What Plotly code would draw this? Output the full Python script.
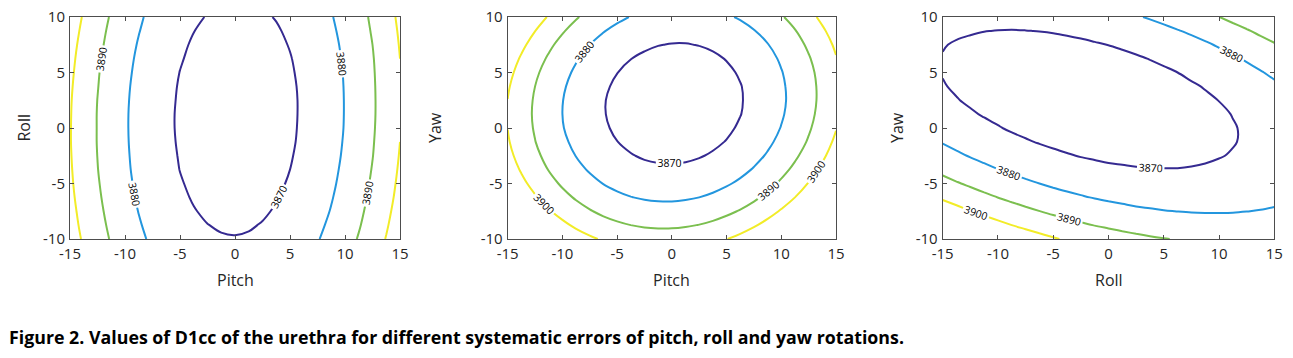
import plotly.graph_objects as go

# ---------------- data ----------------
# grid of rotation errors (degrees)
grid_x = [-15, -13.75, -12.5, -11.25, -10, -8.75, -7.5, -6.25, -5, -3.75, -2.5, -1.25, 0,
          1.25, 2.5, 3.75, 5, 6.25, 7.5, 8.75, 10, 11.25, 12.5, 13.75, 15]
grid_y = [-10, -8.75, -7.5, -6.25, -5, -3.75, -2.5, -1.25, 0, 1.25, 2.5, 3.75, 5, 6.25, 7.5, 8.75, 10]
levels = [3870, 3880, 3890, 3900]
x_ticks = [-15, -10, -5, 0, 5, 10, 15]
x_tick_text = ["-15", "-10", "-5", "0", "5", "10", "15"]
y_ticks = [-10, -5, 0, 5, 10]
y_tick_text = ["-10", "-5", "0", "5", "10"]

# D1cc values, stored as tenths above this base (rows = grid_y, cols = grid_x)
d1cc_base = 3860

# Pitch (x) vs Roll (y)
d1cc_pitch_roll = [
    [444, 389, 339, 293, 253, 217, 186, 160, 139, 123, 112, 105, 103, 106, 114, 127, 145, 167, 195, 227, 264, 306, 352, 404, 460],
    [434, 379, 329, 283, 243, 207, 176, 150, 129, 112, 101, 94, 92, 95, 103, 116, 133, 156, 183, 215, 252, 293, 340, 391, 448],
    [426, 371, 320, 275, 234, 198, 167, 141, 119, 103, 91, 84, 82, 85, 93, 105, 123, 145, 172, 204, 241, 282, 329, 380, 436],
    [419, 363, 313, 267, 226, 190, 159, 133, 111, 95, 83, 76, 74, 77, 84, 97, 114, 136, 163, 195, 231, 273, 319, 370, 426],
    [413, 358, 307, 261, 220, 184, 153, 126, 105, 88, 76, 69, 67, 69, 77, 89, 106, 128, 155, 187, 223, 265, 311, 362, 418],
    [409, 353, 302, 256, 215, 179, 148, 121, 99, 83, 71, 63, 61, 63, 71, 83, 100, 122, 149, 180, 217, 258, 304, 355, 411],
    [406, 350, 299, 253, 212, 176, 144, 117, 96, 78, 66, 59, 56, 59, 66, 78, 95, 117, 143, 175, 211, 252, 298, 349, 405],
    [404, 348, 297, 251, 210, 173, 142, 115, 93, 76, 63, 56, 53, 56, 63, 75, 91, 113, 140, 171, 207, 248, 294, 345, 400],
    [404, 348, 297, 250, 209, 172, 140, 114, 91, 74, 62, 54, 52, 54, 61, 72, 89, 111, 137, 168, 204, 245, 291, 341, 397],
    [405, 349, 297, 251, 209, 173, 141, 114, 91, 74, 62, 54, 51, 53, 60, 72, 88, 110, 136, 167, 203, 243, 289, 340, 395],
    [407, 351, 299, 253, 211, 174, 142, 115, 93, 75, 63, 55, 53, 54, 61, 72, 88, 110, 136, 167, 203, 243, 289, 339, 394],
    [411, 354, 303, 256, 214, 177, 145, 118, 95, 78, 65, 57, 54, 56, 62, 74, 90, 111, 137, 168, 204, 244, 290, 340, 395],
    [416, 359, 307, 260, 218, 182, 149, 122, 99, 82, 69, 61, 58, 59, 66, 77, 93, 114, 140, 171, 206, 247, 292, 342, 397],
    [422, 365, 313, 267, 224, 187, 155, 127, 105, 87, 74, 66, 63, 64, 70, 81, 97, 118, 144, 175, 210, 250, 295, 346, 400],
    [429, 373, 321, 274, 232, 194, 162, 134, 111, 93, 80, 72, 68, 70, 76, 87, 103, 124, 150, 180, 215, 255, 300, 350, 405],
    [438, 382, 330, 282, 240, 203, 170, 142, 119, 101, 88, 80, 76, 77, 83, 94, 110, 131, 156, 187, 222, 262, 307, 356, 411],
    [449, 392, 340, 292, 250, 212, 179, 152, 129, 110, 97, 88, 85, 86, 92, 103, 118, 139, 164, 195, 230, 270, 314, 364, 418],
]

# Pitch (x) vs Yaw (y)
d1cc_pitch_yaw = [
    [656, 603, 556, 513, 475, 442, 414, 390, 372, 358, 349, 345, 346, 352, 363, 378, 398, 423, 453, 488, 528, 572, 621, 675, 734],
    [601, 548, 500, 457, 419, 385, 356, 333, 314, 300, 290, 286, 286, 292, 302, 317, 337, 361, 391, 425, 464, 508, 557, 611, 670],
    [553, 499, 451, 407, 369, 335, 306, 281, 262, 248, 238, 233, 233, 238, 248, 262, 282, 306, 335, 369, 408, 451, 500, 553, 611],
    [511, 457, 408, 364, 325, 291, 261, 237, 217, 202, 192, 187, 186, 191, 200, 214, 233, 257, 285, 319, 357, 400, 448, 501, 559],
    [475, 421, 372, 328, 288, 253, 223, 198, 178, 163, 152, 146, 146, 150, 159, 172, 191, 214, 242, 275, 313, 356, 404, 456, 513],
    [446, 392, 342, 297, 257, 222, 192, 166, 146, 130, 119, 113, 112, 115, 124, 137, 155, 178, 206, 238, 276, 318, 366, 418, 474],
    [424, 369, 319, 274, 233, 198, 167, 141, 120, 104, 92, 86, 84, 87, 95, 108, 126, 148, 176, 208, 245, 287, 334, 385, 442],
    [408, 353, 302, 256, 216, 180, 148, 122, 101, 84, 72, 65, 63, 66, 73, 86, 103, 125, 152, 184, 221, 262, 308, 360, 416],
    [399, 343, 292, 246, 204, 168, 136, 110, 88, 71, 58, 51, 49, 51, 58, 70, 87, 109, 135, 166, 203, 244, 290, 340, 396],
    [396, 339, 288, 241, 200, 163, 131, 104, 81, 64, 51, 43, 40, 42, 49, 61, 77, 98, 124, 155, 191, 232, 277, 328, 383],
    [399, 342, 291, 244, 202, 164, 132, 104, 81, 64, 50, 42, 39, 40, 47, 58, 74, 95, 120, 151, 186, 226, 272, 321, 376],
    [409, 352, 300, 252, 210, 172, 139, 111, 88, 70, 56, 48, 44, 45, 51, 61, 77, 97, 123, 153, 188, 228, 272, 322, 376],
    [425, 368, 315, 267, 225, 186, 153, 125, 101, 82, 68, 59, 55, 56, 61, 71, 87, 107, 131, 161, 196, 235, 279, 328, 382],
    [448, 390, 337, 289, 246, 207, 174, 145, 121, 101, 87, 78, 73, 73, 78, 88, 103, 122, 147, 176, 210, 249, 293, 341, 395],
    [478, 419, 366, 317, 273, 234, 200, 171, 147, 127, 112, 102, 97, 97, 102, 111, 125, 144, 168, 197, 231, 270, 313, 361, 414],
    [514, 455, 401, 352, 308, 268, 234, 204, 179, 159, 144, 133, 128, 127, 131, 141, 154, 173, 197, 225, 258, 296, 339, 387, 440],
    [556, 497, 442, 393, 348, 308, 273, 243, 218, 197, 182, 171, 165, 164, 168, 176, 190, 208, 231, 259, 292, 330, 372, 420, 472],
]

# Roll (x) vs Yaw (y)
d1cc_roll_yaw = [
    [600, 571, 544, 518, 493, 470, 448, 427, 408, 390, 374, 359, 345, 332, 321, 311, 303, 296, 290, 286, 283, 281, 281, 282, 284],
    [523, 496, 470, 445, 422, 400, 380, 361, 343, 327, 312, 298, 286, 275, 265, 257, 250, 244, 240, 237, 236, 235, 237, 239, 243],
    [452, 427, 402, 379, 358, 337, 318, 301, 284, 270, 256, 244, 233, 224, 215, 209, 203, 199, 196, 195, 195, 196, 199, 203, 209],
    [388, 364, 341, 319, 299, 280, 263, 247, 232, 219, 207, 196, 187, 179, 172, 167, 163, 160, 159, 159, 161, 164, 168, 173, 180],
    [330, 307, 286, 266, 247, 230, 214, 200, 186, 174, 164, 155, 147, 140, 135, 132, 129, 128, 128, 130, 133, 137, 143, 150, 159],
    [278, 257, 237, 219, 202, 186, 172, 159, 147, 136, 127, 120, 113, 109, 105, 103, 102, 102, 104, 107, 112, 118, 125, 133, 143],
    [233, 214, 195, 178, 163, 148, 136, 124, 114, 105, 97, 91, 86, 83, 81, 80, 81, 83, 86, 91, 97, 104, 113, 123, 134],
    [195, 176, 160, 144, 130, 117, 106, 96, 87, 80, 74, 69, 66, 64, 63, 64, 66, 70, 74, 81, 88, 97, 107, 119, 132],
    [162, 146, 130, 116, 104, 92, 83, 74, 67, 61, 57, 53, 52, 51, 52, 54, 58, 63, 69, 77, 86, 96, 108, 121, 136],
    [136, 121, 107, 95, 84, 74, 66, 59, 53, 49, 46, 44, 44, 45, 47, 51, 56, 63, 70, 80, 90, 102, 115, 130, 146],
    [117, 103, 91, 80, 70, 62, 55, 50, 46, 43, 41, 41, 42, 45, 49, 54, 61, 69, 78, 89, 101, 114, 129, 145, 163],
    [104, 92, 81, 71, 63, 57, 51, 47, 45, 43, 43, 45, 47, 51, 57, 64, 72, 81, 92, 104, 118, 133, 149, 167, 186],
    [97, 86, 77, 69, 63, 57, 54, 51, 50, 50, 52, 55, 59, 64, 71, 80, 89, 100, 113, 126, 141, 158, 176, 195, 215],
    [97, 88, 80, 73, 68, 65, 62, 61, 62, 63, 66, 71, 77, 84, 92, 102, 113, 126, 139, 155, 171, 189, 208, 229, 251],
    [103, 95, 89, 84, 81, 78, 78, 78, 80, 83, 88, 94, 101, 109, 119, 131, 143, 157, 173, 189, 208, 227, 248, 270, 293],
    [115, 109, 105, 101, 99, 98, 99, 101, 104, 109, 115, 123, 131, 142, 153, 166, 180, 196, 212, 231, 250, 271, 293, 317, 342],
    [134, 130, 127, 125, 124, 125, 127, 131, 135, 142, 149, 158, 168, 180, 193, 207, 223, 240, 258, 278, 299, 322, 346, 371, 397],
]

panels = [
    ("Pitch", "Roll", d1cc_pitch_roll),
    ("Pitch", "Yaw", d1cc_pitch_yaw),
    ("Roll", "Yaw", d1cc_roll_yaw),
]
caption = "Figure 2. Values of D1cc of the urethra for different systematic errors of pitch, roll and yaw rotations."

# ---------------- styling ----------------
PAGE_W, PAGE_H = 1293, 358
OFF = 8                      # default page-body margin around the plot div
W, H = PAGE_W - OFF, PAGE_H - OFF
line_colors = ["#352A91", "#2396DE", "#7BBF4F", "#F2EC28"]
colorscale = [[0.0, line_colors[0]], [1 / 3, line_colors[1]], [2 / 3, line_colors[2]], [1.0, line_colors[3]]]
plot_left_px = [70, 507.7, 942.7]
plot_right_px = [400, 836, 1274.3]
plot_top_px, plot_bot_px = 17, 239
ytitle_x_px = [23.5, 435, 897]
tick_font = dict(family="Open Sans", size=15, color="#262626")
title_font = dict(family="Open Sans", size=16, color="#262626")


def px_x(p):
    return (p - OFF) / W


def px_y(p):
    return 1 - (p - OFF) / H


fig = go.Figure()
annotations = []
for i, (xname, yname, tenths) in enumerate(panels):
    sfx = "" if i == 0 else str(i + 1)
    z = [[d1cc_base + v / 10 for v in row] for row in tenths]
    fig.add_trace(go.Contour(
        x=grid_x, y=grid_y, z=z, autocontour=False,
        contours=dict(start=levels[0], end=levels[-1], size=levels[1] - levels[0],
                      coloring="lines", showlabels=True,
                      labelfont=dict(family="Open Sans", size=10.5, color="black")),
        line=dict(width=2, smoothing=1.0),
        colorscale=colorscale, zmin=levels[0], zmax=levels[-1], zauto=False,
        showscale=False, hoverinfo="skip", xaxis="x" + sfx, yaxis="y" + sfx,
    ))
    dom_x = [px_x(plot_left_px[i]), px_x(plot_right_px[i])]
    dom_y = [px_y(plot_bot_px), px_y(plot_top_px)]
    common = dict(showline=True, linecolor="#4d4d4d", linewidth=1, mirror="allticks",
                  ticks="inside", ticklen=4, tickcolor="#4d4d4d", showgrid=False,
                  zeroline=False, tickfont=tick_font, fixedrange=True, automargin=False,
                  ticklabeloverflow="allow")
    fig.update_layout(**{
        "xaxis" + sfx: dict(domain=dom_x, range=[-15, 15], tickvals=x_ticks, ticktext=x_tick_text,
                            ticklabelstandoff=1, anchor="y" + sfx, **common),
        "yaxis" + sfx: dict(domain=dom_y, range=[-10, 10], tickvals=y_ticks, ticktext=y_tick_text,
                            ticklabelstandoff=1, anchor="x" + sfx, **common),
    })
    annotations.append(dict(text=xname, xref="paper", yref="paper",
                            x=px_x((plot_left_px[i] + plot_right_px[i]) / 2), y=px_y(280),
                            xanchor="center", yanchor="middle", showarrow=False, font=title_font))
    annotations.append(dict(text=yname, xref="paper", yref="paper",
                            x=px_x(ytitle_x_px[i]), y=px_y(128), textangle=-90,
                            xanchor="center", yanchor="middle", showarrow=False, font=title_font))

annotations.append(dict(text="<b>" + caption + "</b>", xref="paper", yref="paper",
                        x=px_x(7), y=px_y(337), xanchor="left", yanchor="middle",
                        showarrow=False, font=dict(family="Open Sans", size=17.8, color="black")))

fig.update_layout(template="none", width=W, height=H,
                  margin=dict(l=0, r=0, t=0, b=0, autoexpand=False),
                  paper_bgcolor="white", plot_bgcolor="white", showlegend=False,
                  annotations=annotations)
fig.write_html("out.html")
